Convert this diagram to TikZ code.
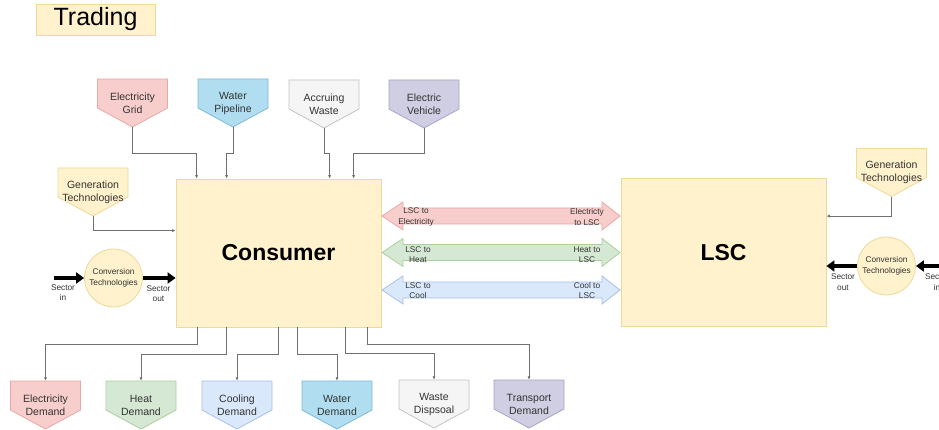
\documentclass[tikz,border=0pt]{standalone}
\usepackage{fontspec}
\setmainfont{Liberation Sans}
\usetikzlibrary{arrows.meta,calc}
\definecolor{redF}{HTML}{F8CECC}\definecolor{redD}{HTML}{E6A9A6}
\definecolor{greenF}{HTML}{D5E8D4}\definecolor{greenD}{HTML}{ACCF9C}
\definecolor{blueF}{HTML}{DAE8FC}\definecolor{blueD}{HTML}{A9C1E3}
\definecolor{waterF}{HTML}{B1DDF0}\definecolor{waterD}{HTML}{7FB9D6}
\definecolor{grayF}{HTML}{F5F5F5}\definecolor{grayD}{HTML}{C4C4C4}
\definecolor{purpF}{HTML}{D0CEE2}\definecolor{purpD}{HTML}{A8A4C6}
\definecolor{yelF}{HTML}{FFF2CC}\definecolor{yelD}{HTML}{EDD99A}
\definecolor{txt}{HTML}{333333}
\definecolor{lin}{HTML}{707070}
\tikzset{
  pent/.style={minimum width=70pt,minimum height=48pt,inner sep=0pt,align=center,
    text=txt,font=\fontsize{10.5}{13}\selectfont},
  pentshape/.style={line width=0.8pt},
  bigbox/.style={draw=yelD,fill=yelF,line width=0.8pt,minimum width=205pt,minimum height=148pt,
    font=\fontsize{23}{26}\selectfont\bfseries},
  conn/.style={draw=lin,line width=0.6pt,-{Latex[length=3.5pt,width=3pt]}},
  small/.style={text=txt,align=center,font=\fontsize{8.3}{10.5}\selectfont,inner sep=0pt},
  thick arrow/.style={line width=4pt,-{Triangle[length=8pt,width=11pt]}},
  convc/.style={circle,draw=yelD,fill=yelF,line width=0.8pt,minimum size=58pt,inner sep=0pt,
    align=center,text=txt,font=\fontsize{8.3}{10.5}\selectfont},
  dbl/.style={line width=0.8pt}
}
\newcommand\pentnode[6]{%
  \filldraw[pentshape,fill=#4,draw=#5] (#2-35,#3-24) -- (#2+35,#3-24) -- (#2+35,#3+5) -- (#2,#3+24) -- (#2-35,#3+5) -- cycle;
  \node[pent] (#1) at (#2,#3) {#6};}
\newcommand\dblarrow[3]{%
  \filldraw[dbl,fill=#2,draw=#3] (382,#1) -- (403,#1-14) -- (403,#1-8) -- (602,#1-8) -- (602,#1-14) -- (620,#1)
    -- (602,#1+14) -- (602,#1+8) -- (403,#1+8) -- (403,#1+14) -- cycle;}
\begin{document}
\begin{tikzpicture}[x=1pt,y=-1pt]
\useasboundingbox (0,0) rectangle (939,430);
\clip (0,0) rectangle (939,430);
\fill[white] (0,0) rectangle (939,430);

% title
\node[draw=yelD,fill=yelF,line width=0.8pt,minimum width=119pt,minimum height=31pt,inner sep=0pt,
  font=\fontsize{25}{28}\selectfont] (trading) at (95.5,19.5) {Trading};

% main boxes
\node[bigbox] (consumer) at (278.5,253) {Consumer};
\node[bigbox] (lsc) at (723.5,252.5) {LSC};

% top inputs
\pentnode{eg}{132.5}{103}{redF}{redD}{Electricity\\Grid}
\pentnode{wp}{233}{103}{waterF}{waterD}{Water\\Pipeline}
\pentnode{aw}{324}{104}{grayF}{grayD}{Accruing\\Waste}
\pentnode{ev}{424}{104}{purpF}{purpD}{Electric\\Vehicle}

\draw[conn] (eg.south) -- ++(0,26) -| ([xshift=21pt]consumer.north west);
\draw[conn] (wp.south) -- ++(0,26) -| ([xshift=51pt]consumer.north west);
\draw[conn] (aw.south) -- ++(0,25) -| ([xshift=154pt]consumer.north west);
\draw[conn] (ev.south) -- ++(0,25) -| ([xshift=178pt]consumer.north west);

% generation technologies
\pentnode{gl}{93}{192}{yelF}{yelD}{Generation\\Technologies}
\draw[conn] (gl.south) |- ([yshift=-52pt]consumer.north west);
\pentnode{gr}{891.5}{172.5}{yelF}{yelD}{Generation\\Technologies}
\draw[conn] (gr.south) |- ([yshift=-38pt]lsc.north east);

% conversion technologies
\node[convc] (cl) at (113.5,278) {Conversion\\Technologies};
\coordinate (sinl) at (54,278);
\draw[thick arrow] (sinl) -- (cl.west);
\draw[thick arrow] (cl.east) -- (consumer.west |- cl.east);
\node[small] (sinlt) at (63,292.5) {Sector\\in};
\node[small] (soutlt) at (158.5,293.5) {Sector\\out};

\node[convc] (cr) at (886.5,266) {Conversion\\Technologies};
\coordinate (sinr) at (945,266);
\draw[thick arrow] (sinr) -- (cr.east);
\draw[thick arrow] (cr.west) -- (lsc.east |- cr.west);
\node[small] (soutrt) at (843,282) {Sector\\out};
\node[small] (sinrt) at (937,282) {Sector\\in};

% double arrows
\dblarrow{216}{redF}{redD}
\dblarrow{252.5}{greenF}{greenD}
\dblarrow{290}{blueF}{blueD}
\node[small] (a1l) at (416,217) {LSC to\\Electricity};
\node[small] (a1r) at (587,217) {Electricty\\to LSC};
\node[small] (a2l) at (418,254.5) {LSC to\\Heat};
\node[small] (a2r) at (587,254.5) {Heat to\\LSC};
\node[small] (a3l) at (418,290.5) {LSC to\\Cool};
\node[small] (a3r) at (587,290.5) {Cool to\\LSC};

% demands
\pentnode{ed}{45.5}{405}{redF}{redD}{Electricity\\Demand}
\pentnode{hd}{141}{405}{greenF}{greenD}{Heat\\Demand}
\pentnode{cd}{237}{405}{blueF}{blueD}{Cooling\\Demand}
\pentnode{wd}{337}{405}{waterF}{waterD}{Water\\Demand}
\pentnode{wsd}{434}{404}{grayF}{grayD}{Waste\\Dispsoal}
\pentnode{td}{529}{404}{purpF}{purpD}{Transport\\Demand}

\draw[conn] ([xshift=22pt]consumer.south west) -- ++(0,17) -| (ed.north);
\draw[conn] ([xshift=51pt]consumer.south west) -- ++(0,27) -| (hd.north);
\draw[conn] ([xshift=103pt]consumer.south west) -- ++(0,27) -| (cd.north);
\draw[conn] ([xshift=122pt]consumer.south west) -- ++(0,27) -| (wd.north);
\draw[conn] ([xshift=170pt]consumer.south west) -- ++(0,26) -| (wsd.north);
\draw[conn] ([xshift=192pt]consumer.south west) -- ++(0,17) -| (td.north);
\end{tikzpicture}
\end{document}
